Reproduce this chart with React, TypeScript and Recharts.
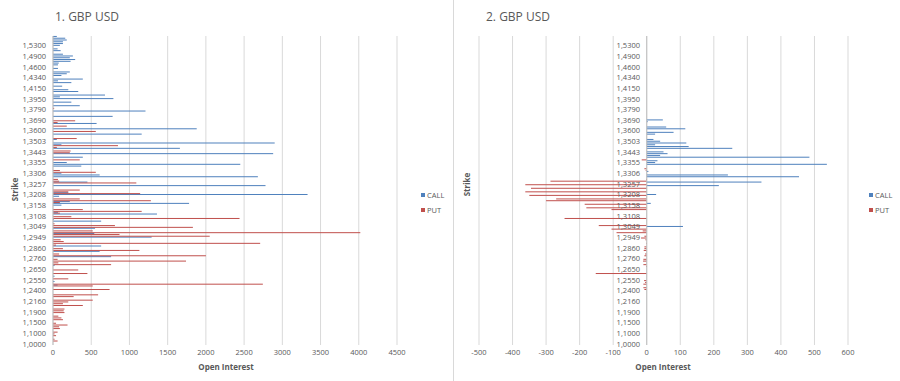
import React from 'react';
import { BarChart, Bar, XAxis, YAxis, CartesianGrid, ReferenceLine } from 'recharts';

// Strike categories, bottom (index 0) to top
const STRIKES: string[] = [
  '1,0000', '1,0200', '1,0400', '1,0500', '1,0600', '1,0800', '1,1000', '1,1100', '1,1200', '1,1250',
  '1,1300', '1,1400', '1,1500', '1,1600', '1,1700', '1,1750', '1,1800', '1,1850', '1,1900', '1,1950',
  '1,2000', '1,2050', '1,2100', '1,2130', '1,2160', '1,2200', '1,2250', '1,2300', '1,2330', '1,2350',
  '1,2400', '1,2430', '1,2450', '1,2480', '1,2500', '1,2530', '1,2550', '1,2570', '1,2580', '1,2600',
  '1,2610', '1,2630', '1,2650', '1,2670', '1,2690', '1,2700', '1,2720', '1,2740', '1,2760', '1,2780',
  '1,2790', '1,2800', '1,2820', '1,2840', '1,2860', '1,2880', '1,2890', '1,2900', '1,2910', '1,2930',
  '1,2949', '1,2960', '1,2980', '1,3000', '1,3010', '1,3030', '1,3049', '1,3059', '1,3069', '1,3079',
  '1,3089', '1,3098', '1,3108', '1,3118', '1,3128', '1,3138', '1,3148', '1,3150', '1,3158', '1,3168',
  '1,3178', '1,3188', '1,3198', '1,3200', '1,3208', '1,3218', '1,3227', '1,3237', '1,3247', '1,3250',
  '1,3257', '1,3267', '1,3277', '1,3287', '1,3297', '1,3300', '1,3306', '1,3316', '1,3326', '1,3336',
  '1,3346', '1,3350', '1,3355', '1,3365', '1,3385', '1,3400', '1,3405', '1,3424', '1,3443', '1,3450',
  '1,3463', '1,3473', '1,3483', '1,3493', '1,3503', '1,3513', '1,3523', '1,3550', '1,3563', '1,3580',
  '1,3600', '1,3613', '1,3623', '1,3643', '1,3650', '1,3670', '1,3690', '1,3700', '1,3720', '1,3740',
  '1,3750', '1,3770', '1,3790', '1,3800', '1,3830', '1,3850', '1,3880', '1,3900', '1,3950', '1,4000',
  '1,4030', '1,4050', '1,4080', '1,4100', '1,4150', '1,4200', '1,4230', '1,4250', '1,4280', '1,4300',
  '1,4340', '1,4350', '1,4400', '1,4450', '1,4500', '1,4550', '1,4600', '1,4650', '1,4700', '1,4750',
  '1,4800', '1,4850', '1,4900', '1,4950', '1,5000', '1,5050', '1,5100', '1,5200', '1,5300', '1,5400',
  '1,5500', '1,5600', '1,5700', '1,5800',
];

// Chart 1: open interest
const CALL_1: number[] = [
  0, 0, 0, 0, 0, 0, 0, 0, 0, 0,
  0, 0, 0, 0, 0, 0, 0, 0, 0, 0,
  0, 0, 0, 0, 0, 0, 0, 0, 0, 0,
  0, 0, 0, 60, 0, 20, 0, 0, 20, 0,
  0, 0, 0, 0, 20, 0, 0, 0, 0, 760,
  0, 0, 610, 0, 0, 630, 0, 0, 0, 0,
  1290, 0, 540, 0, 0, 550, 0, 0, 0, 630,
  10, 0, 0, 1360, 65, 0, 0, 0, 110, 1780,
  220, 0, 0, 80, 3330, 200, 0, 0, 0, 2780,
  0, 450, 0, 0, 2680, 610, 110, 0, 0, 0,
  370, 2450, 180, 0, 0, 390, 0, 2880, 0, 0,
  1660, 0, 110, 2900, 0, 50, 0, 0, 1160, 0,
  0, 1880, 0, 0, 570, 0, 0, 0, 780, 0,
  0, 1210, 0, 0, 350, 0, 240, 0, 790, 90,
  680, 0, 330, 200, 0, 120, 0, 240, 65, 390,
  0, 110, 180, 220, 0, 65, 0, 65, 75, 230,
  290, 220, 260, 130, 0, 100, 60, 0, 90, 130,
  130, 180, 160, 50,
];
const PUT_1: number[] = [
  0, 0, 60, 20, 0, 40, 20, 60, 0, 90,
  80, 190, 40, 0, 130, 110, 70, 0, 150, 140,
  150, 0, 390, 130, 200, 520, 0, 270, 590, 0,
  0, 740, 0, 520, 2745, 0, 0, 200, 0, 0,
  450, 0, 330, 0, 0, 760, 70, 1740, 60, 0,
  2000, 80, 0, 1130, 130, 0, 40, 2710, 140, 100,
  0, 2050, 870, 4020, 520, 0, 1830, 810, 20, 0,
  0, 2440, 240, 0, 90, 1160, 390, 0, 0, 0,
  90, 1280, 350, 0, 0, 1140, 200, 350, 0, 0,
  0, 1090, 80, 65, 0, 0, 0, 560, 90, 0,
  0, 0, 0, 0, 350, 0, 0, 0, 220, 230,
  0, 50, 850, 0, 0, 0, 310, 0, 0, 0,
  560, 0, 0, 180, 0, 60, 290, 0, 0, 0,
  0, 0, 0, 15, 0, 0, 0, 0, 0, 0,
];

// Chart 2: open interest change
const CALL_2: number[] = [
  0, 0, 0, 0, 0, 0, 0, 0, 0, 0,
  0, 0, 0, 0, 0, 0, 0, 0, 0, 0,
  0, 0, 0, 0, 0, 0, 0, 0, 0, 0,
  0, 0, 0, 0, 0, 0, 0, 0, 0, 0,
  0, 0, 0, 0, 0, 0, 0, 0, 0, 0,
  0, 0, 0, 0, 0, 0, 0, 0, 0, 0,
  0, 0, 0, 0, 0, 0, 108, 0, 0, 0,
  0, 0, 0, 0, 0, 0, 0, 0, 0, 12,
  0, 0, 0, 0, 28, 0, 0, 0, 0, 215,
  0, 342, 0, 0, 454, 242, 0, 5, 0, 0,
  0, 537, 25, 32, 0, 485, 40, 62, 50, 0,
  255, 125, 25, 118, 40, 20, 0, 0, 25, 80,
  0, 115, 58, 0, 0, 3, 48, 0, 0, 0,
];
const PUT_2: number[] = [
  0, 0, 0, 0, 0, 0, 0, 0, 0, 0,
  0, 0, 0, 0, 0, 0, 0, 0, 0, 0,
  0, 0, 0, 0, 0, 0, 0, 0, 0, 0,
  0, -7, -10, 0, -10, -5, -8, 0, 0, 0,
  -152, 0, 0, 0, -2, -10, 0, -11, -10, 0,
  -7, -5, 0, -9, -7, -7, 0, -2, 0, -4,
  -17, -7, 0, -90, -12, -105, 0, -143, 0, 0,
  0, -245, 0, 0, 0, 0, -105, -180, 0, -185,
  0, -300, -270, 0, -350, 0, -362, 0, -345, 0,
  -362, 0, -287, -2, 0, 0, 0, 0, -3, -7,
  0, 0, 0, 0, -15, 0, 0, 0, 0, 0,
];

const TICKS_1 = [0, 500, 1000, 1500, 2000, 2500, 3000, 3500, 4000, 4500];
const TICKS_2 = [-500, -400, -300, -200, -100, 0, 100, 200, 300, 400, 500, 600];

const LABEL_EVERY = 6;
const CALL_COLOR = '#4F81BD';
const PUT_COLOR = '#C0504D';
const TEXT = '#595959';
const FONT = "'Open Sans', 'Liberation Sans', sans-serif";

const rows1 = STRIKES.map((s, i) => ({ strike: s, CALL: CALL_1[i] ?? 0, PUT: PUT_1[i] ?? 0 }));
const rows2 = STRIKES.map((s, i) => ({ strike: s, CALL: CALL_2[i] ?? 0, PUT: PUT_2[i] ?? 0 }));

const makeTick = (xPos: number) => (props: any) => {
  const { y, index, payload } = props;
  if ((index ?? 0) % LABEL_EVERY !== 0) return <g />;
  return (
    <text x={xPos} y={y} dy="0.33em" textAnchor="end" fontSize={7.5} fill={TEXT} fontFamily={FONT}>
      {payload.value}
    </text>
  );
};

// thin bar: keeps library geometry, draws at least one pixel thick with explicit fill
const thinBar = (color: string) => (p: any) => {
  const { x, y, width, height } = p;
  if (!width || !isFinite(x) || !isFinite(y)) return <g />;
  const h = Math.max(Math.abs(height), 1);
  const cy = y + height / 2;
  const x0 = width < 0 ? x + width : x;
  return <rect x={x0} y={cy - h / 2} width={Math.abs(width)} height={h} fill={color} stroke="none" />;
};

const xTick = { fontSize: 7.5, fill: TEXT, fontFamily: FONT };

const LegendBox = ({ left, top }: { left: number; top: number }) => (
  <div style={{ position: 'absolute', left, top, fontFamily: FONT, fontSize: 7.5, color: TEXT, lineHeight: '10px' }}>
    <div style={{ display: 'flex', alignItems: 'center', height: 10 }}>
      <span style={{ display: 'inline-block', width: 4, height: 4, background: CALL_COLOR, marginRight: 2 }} />
      CALL
    </div>
    <div style={{ display: 'flex', alignItems: 'center', height: 10, marginTop: 5 }}>
      <span style={{ display: 'inline-block', width: 4, height: 4, background: PUT_COLOR, marginRight: 2 }} />
      PUT
    </div>
  </div>
);

const txt = (style: React.CSSProperties, content: string) => (
  <div style={{ position: 'absolute', fontFamily: FONT, color: TEXT, whiteSpace: 'nowrap', ...style }}>{content}</div>
);

export default function App() {
  return (
    <div style={{ position: 'absolute', left: 0, top: 0, width: 900, height: 381, background: '#fff', overflow: 'hidden' }}>
      {/* Chart 1 */}
      <div style={{ position: 'absolute', left: 0, top: 0 }}>
        <BarChart
          width={453}
          height={381}
          data={rows1}
          layout="vertical"
          margin={{ top: 36, right: 56, bottom: 16, left: 0 }}
          barCategoryGap={0}
          barGap={0}
        >
          <CartesianGrid horizontal={false} stroke="#d9d9d9" />
          <XAxis
            type="number"
            domain={[0, 4500]}
            ticks={TICKS_1}
            axisLine={false}
            tickLine={false}
            tickSize={4}
            tickMargin={1}
            height={20}
            tick={xTick}
            interval={0}
          />
          <YAxis
            type="category"
            dataKey="strike"
            reversed
            interval={0}
            width={53}
            axisLine={{ stroke: '#bfbfbf' }}
            tickLine={false}
            tick={makeTick(46)}
          />
          <Bar dataKey="CALL" fill={CALL_COLOR} shape={thinBar(CALL_COLOR)} isAnimationActive={false} />
          <Bar dataKey="PUT" fill={PUT_COLOR} shape={thinBar(PUT_COLOR)} isAnimationActive={false} />
        </BarChart>
      </div>

      {/* Chart 2 */}
      <div style={{ position: 'absolute', left: 453, top: 0 }}>
        <BarChart
          width={447}
          height={381}
          data={rows2}
          layout="vertical"
          margin={{ top: 36, right: 52, bottom: 16, left: 0 }}
          barCategoryGap={0}
          barGap={0}
        >
          <CartesianGrid horizontal={false} stroke="#d9d9d9" />
          <XAxis
            type="number"
            domain={[-500, 600]}
            ticks={TICKS_2}
            axisLine={false}
            tickLine={false}
            tickSize={4}
            tickMargin={1}
            height={20}
            tick={xTick}
            interval={0}
          />
          <YAxis
            type="category"
            dataKey="strike"
            reversed
            interval={0}
            width={26}
            axisLine={false}
            tickLine={false}
            tick={makeTick(187)}
          />
          <ReferenceLine x={0} stroke="#bfbfbf" />
          <Bar dataKey="CALL" fill={CALL_COLOR} shape={thinBar(CALL_COLOR)} isAnimationActive={false} />
          <Bar dataKey="PUT" fill={PUT_COLOR} shape={thinBar(PUT_COLOR)} isAnimationActive={false} />
        </BarChart>
      </div>

      {/* separator between the two charts */}
      <div style={{ position: 'absolute', left: 453, top: 0, width: 1, height: 381, background: '#d9d9d9' }} />

      {txt({ left: 55, top: 8, fontSize: 12 }, '1. GBP USD')}
      {txt({ left: 486, top: 8, fontSize: 12 }, '2. GBP USD')}
      {txt({ left: 186, width: 80, textAlign: 'center', top: 361, fontSize: 8, fontWeight: 700 }, 'Open Interest')}
      {txt({ left: 623, width: 80, textAlign: 'center', top: 361, fontSize: 8, fontWeight: 700 }, 'Open Interest')}
      {txt({ left: -6, top: 184, width: 40, textAlign: 'center', fontSize: 8, fontWeight: 700, transform: 'rotate(-90deg)' }, 'Strike')}
      {txt({ left: 446, top: 179, width: 40, textAlign: 'center', fontSize: 8, fontWeight: 700, transform: 'rotate(-90deg)' }, 'Strike')}

      <LegendBox left={421} top={190} />
      <LegendBox left={869} top={190} />
    </div>
  );
}
